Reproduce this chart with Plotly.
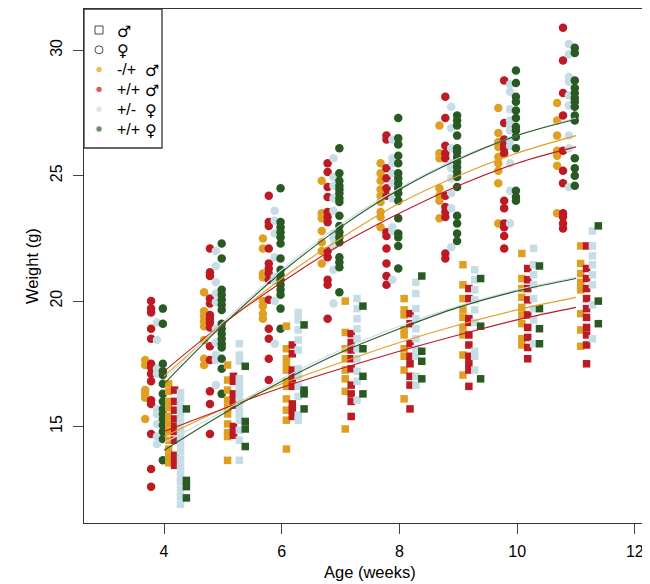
import plotly.graph_objects as go

# Ages (weeks) at which each group was weighed
ages = [4, 5, 6, 7, 8, 9, 10, 11]

# Body weights (g), one inner list per age
orange_circles = [
    [17.65, 17.45, 16.45, 16.3, 16.15, 15.3],
    [20.35, 19.6, 19.4, 19.2, 19.0, 18.45, 17.7, 17.45],
    [22.5, 22.1, 21.1, 20.95, 20.0, 19.8, 19.5, 19.3],
    [24.8, 23.5, 23.3, 22.8, 22.35, 22.0, 21.5],
    [25.5, 25.1, 24.8, 24.45, 24.2, 23.95, 23.55, 23.35, 22.95],
    [27.0, 25.9, 25.7, 24.5, 24.2, 24.0, 23.3],
    [27.7, 26.7, 26.35, 26.15, 25.75, 25.5, 25.2, 24.7, 23.1],
    [27.9, 27.2, 26.6, 26.0, 25.8, 25.4, 23.5],
]
red_circles = [
    [20.0, 19.7, 19.55, 18.9, 18.5, 17.5, 17.35, 17.1, 16.8, 16.05, 15.9, 14.7, 13.3, 12.6],
    [22.1, 21.15, 21.0, 20.1, 19.9, 19.45, 19.3, 19.15, 18.95, 18.2, 17.65, 16.4, 15.9, 14.7],
    [24.2, 23.15, 23.0, 22.1, 21.5, 21.3, 21.1, 20.85, 20.05, 18.9, 18.5, 17.7, 16.85],
    [25.5, 25.15, 24.55, 24.15, 23.55, 23.35, 23.15, 22.0, 21.75, 20.85, 20.65, 19.3],
    [26.6, 26.45, 25.3, 24.9, 24.5, 24.2, 22.75, 22.6, 22.1, 21.5, 21.0, 20.65],
    [28.15, 27.3, 26.2, 25.9, 25.7, 24.2, 23.75, 23.55, 23.35, 21.9, 21.7],
    [28.8, 27.1, 26.45, 26.25, 26.1, 25.9, 24.0, 23.7, 23.1, 22.95, 22.6, 22.1],
    [30.9, 29.6, 28.3, 27.4, 26.0, 25.2, 24.7, 23.5, 23.35, 23.1, 22.9],
]
blue_circles = [
    [19.15, 18.45, 17.3, 17.1, 15.7, 15.5, 15.1, 14.6, 14.3],
    [22.0, 21.4, 20.75, 20.3, 19.95, 18.9, 18.35, 17.85, 17.65, 16.65],
    [23.6, 23.2, 22.7, 21.75, 20.95, 20.8, 20.0, 18.3],
    [25.7, 24.95, 24.6, 24.1, 23.6, 22.7, 22.5, 22.2, 21.25, 19.9],
    [26.45, 25.7, 25.5, 25.1, 24.7, 24.1, 22.95, 22.8, 20.85],
    [27.75, 26.9, 26.1, 25.5, 25.3, 24.9, 24.3, 23.7, 22.15],
    [28.65, 28.35, 27.65, 27.2, 27.0, 26.8, 26.4, 26.2, 25.5, 24.4, 23.1],
    [30.25, 29.85, 28.95, 28.75, 28.2, 27.8, 26.6, 26.1, 24.55],
]
green_circles = [
    [19.7, 19.1, 17.5, 17.2, 17.05, 16.7, 16.3, 16.0, 15.7, 15.5, 15.3, 15.05, 14.8, 14.5, 13.65],
    [22.3, 21.7, 20.45, 20.25, 20.05, 19.85, 19.65, 19.1, 18.9, 18.7, 18.5, 18.3, 18.15, 17.7, 17.3, 16.3],
    [24.5, 23.15, 22.95, 22.75, 22.55, 22.3, 21.7, 21.25, 21.05, 20.85, 20.65, 20.45, 20.25, 19.7, 18.9],
    [26.1, 25.1, 24.8, 24.6, 24.45, 24.3, 24.1, 23.95, 23.4, 23.0, 22.75, 22.55, 22.35, 21.75, 21.55, 21.35, 20.35],
    [27.3, 26.5, 26.25, 25.8, 25.5, 25.1, 24.9, 24.7, 24.5, 24.3, 24.0, 23.3, 22.7, 22.55, 22.2, 21.3],
    [27.4, 27.2, 27.0, 26.6, 26.1, 25.95, 25.75, 25.55, 25.35, 25.15, 24.95, 24.55, 23.4, 23.1, 22.7, 22.4],
    [29.2, 28.7, 28.15, 27.95, 27.6, 27.3, 26.95, 26.8, 26.55, 26.1, 24.4, 24.15, 24.0],
    [30.1, 29.9, 28.8, 28.5, 28.3, 28.1, 27.95, 27.75, 27.4, 27.2, 25.7, 25.3, 25.0, 24.6],
]
orange_squares = [
    [16.7, 16.4, 16.0, 15.75, 15.4, 15.1, 14.8, 14.45, 14.1, 13.8, 13.55],
    [17.45, 16.85, 16.45, 16.05, 15.75, 15.5, 15.1, 14.75, 14.6, 13.65],
    [19.0, 18.1, 17.7, 17.45, 17.25, 16.8, 16.6, 16.1, 15.65, 15.25, 14.1],
    [20.0, 18.75, 18.1, 17.7, 17.25, 16.9, 16.4, 14.9],
    [20.1, 19.65, 19.45, 18.85, 18.65, 18.1, 17.8, 17.25, 16.1],
    [21.45, 20.65, 20.1, 19.65, 19.35, 18.95, 18.65, 17.85, 17.05],
    [21.9, 20.9, 20.5, 20.15, 19.75, 19.45, 19.1, 18.5, 18.25],
    [22.2, 21.5, 21.1, 20.75, 20.45, 19.5, 18.85, 18.2],
]
red_squares = [
    [16.45, 16.0, 15.65, 15.3, 15.0, 14.8, 14.45, 13.85, 13.6, 13.45],
    [17.0, 16.8, 16.3, 16.1, 15.85, 15.0, 14.8, 14.65],
    [18.25, 17.9, 17.25, 17.05, 16.9, 16.6, 15.9, 15.65, 15.4],
    [18.7, 18.35, 18.05, 17.7, 17.3, 16.65, 16.3, 16.0, 15.4],
    [19.5, 19.1, 18.3, 17.8, 17.5, 17.0, 16.65, 15.7],
    [20.5, 20.1, 19.3, 19.15, 18.65, 18.25, 17.8, 17.5, 17.25, 16.6],
    [21.3, 20.85, 20.5, 20.05, 19.45, 18.95, 18.55, 18.15, 17.7],
    [22.2, 21.3, 20.9, 20.5, 20.1, 19.7, 19.35, 18.95, 18.65, 18.25, 17.5],
]
blue_squares = [
    [16.35, 16.1, 15.8, 15.5, 15.2, 14.9, 14.6, 14.3, 14.0, 13.7, 13.4, 13.1, 12.8, 12.5, 12.2, 11.9],
    [18.3, 17.85, 17.6, 16.9, 16.65, 16.45, 16.2, 16.0, 15.75, 15.5, 15.25, 14.85, 14.45, 13.65],
    [19.55, 19.25, 18.85, 18.45, 18.05, 17.3, 17.0, 16.6, 16.2, 15.45, 15.25],
    [20.1, 19.7, 19.3, 18.9, 18.5, 18.1, 17.7, 17.2, 16.8, 16.05],
    [20.75, 20.3, 19.7, 19.3, 18.9, 18.5, 18.1, 17.8, 17.0, 16.65],
    [21.25, 20.85, 20.45, 20.05, 19.65, 19.15, 18.0, 17.8, 17.25],
    [22.1, 21.45, 21.05, 20.65, 20.1, 19.7, 19.25, 18.3],
    [22.8, 22.2, 21.8, 21.45, 21.05, 20.65, 19.85, 18.5],
]
green_squares = [
    [15.7, 12.85, 12.6, 12.15],
    [17.4, 15.2, 14.9, 14.2],
    [19.05, 16.45, 16.3, 15.7],
    [19.8, 18.1, 17.0, 16.3],
    [21.0, 18.0, 17.6, 16.9],
    [20.9, 19.0, 16.9],
    [21.4, 19.7, 18.9, 18.3],
    [23.0, 20.0, 19.1],
]

# Fitted growth curves at each age
orange_circle_fit = [17.0, 19.05, 20.9, 22.5, 23.9, 25.0, 25.9, 26.6]
red_circle_fit = [17.2, 19.1, 20.75, 22.25, 23.5, 24.6, 25.5, 26.15]
blue_circle_fit = [16.85, 19.15, 21.25, 23.05, 24.5, 25.7, 26.6, 27.3]
green_circle_fit = [16.7, 19.05, 21.15, 22.95, 24.45, 25.65, 26.6, 27.25]
orange_square_fit = [14.6, 15.7, 16.7, 17.55, 18.35, 19.05, 19.65, 20.15]
red_square_fit = [14.8, 15.7, 16.55, 17.3, 18.0, 18.65, 19.25, 19.75]
blue_square_fit = [14.35, 15.6, 16.9, 18.05, 19.0, 19.8, 20.45, 20.95]
green_square_fit = [14.05, 15.5, 16.8, 17.95, 18.9, 19.75, 20.4, 20.9]

legend_labels = ["", "", "-/+", "+/+", "+/-", "+/+"]
legend_sex = ["\u2642", "\u2640", "\u2642", "\u2642", "\u2640", "\u2640"]

ORANGE = "#E09F22"
RED = "#BD1A24"
BLUE = "#C6DDE5"
GREEN = "#2A5A24"
FONT = "Liberation Sans, Arial, sans-serif"
SYMFONT = "DejaVu Sans"

# (values, fit, marker symbol, colour, horizontal dodge in weeks)
groups = [
    (orange_circles, orange_circle_fit, "circle", ORANGE, -0.32),
    (red_circles, red_circle_fit, "circle", RED, -0.22),
    (blue_circles, blue_circle_fit, "circle", BLUE, -0.12),
    (green_circles, green_circle_fit, "circle", GREEN, -0.02),
    (orange_squares, orange_square_fit, "square", ORANGE, 0.08),
    (red_squares, red_square_fit, "square", RED, 0.18),
    (blue_squares, blue_square_fit, "square", BLUE, 0.28),
    (green_squares, green_square_fit, "square", GREEN, 0.38),
]

fig = go.Figure()

for values, fit, symbol, color, dodge in groups:
    xs, ys = [], []
    for age, weights in zip(ages, values):
        xs += [age + dodge] * len(weights)
        ys += weights
    fig.add_trace(go.Scatter(
        x=xs, y=ys, mode="markers", showlegend=False, hoverinfo="x+y",
        marker=dict(symbol=symbol, color=color, size=8.5 if symbol == "circle" else 7.5,
                    line=dict(width=0)),
    ))

# fitted curves drawn over the points
for values, fit, symbol, color, dodge in groups:
    fig.add_trace(go.Scatter(
        x=ages, y=fit, mode="lines", showlegend=False, hoverinfo="skip",
        line=dict(color=color, width=1.1, shape="spline"),
    ))

# hand-drawn legend box on a pixel-scaled overlay axis
PW, PH = 572, 514
row_y = [21 + 19.8 * i for i in range(6)]
fig.add_trace(go.Scatter(
    x=[15] * 6, y=row_y, mode="markers", showlegend=False, hoverinfo="skip",
    xaxis="x2", yaxis="y2",
    marker=dict(symbol=["square-open", "circle-open", "circle", "circle", "circle", "circle"],
                color=["black", "black", ORANGE, RED, BLUE, GREEN],
                size=[8, 8, 6.5, 6.5, 6.5, 6.5], line=dict(width=1)),
))
fig.add_shape(type="rect", xref="x2", yref="y2", x0=0, x1=78, y0=0, y1=139,
              line=dict(color="#333", width=1.3), fillcolor="white", layer="below")
for i, (lab, sex) in enumerate(zip(legend_labels, legend_sex)):
    if lab:
        fig.add_annotation(x=31, y=row_y[i], xref="x2", yref="y2", text=lab, showarrow=False,
                           xanchor="left", yanchor="middle", font=dict(size=16, color="black"))
        sex_x = 59
    else:
        sex_x = 31
    fig.add_annotation(x=sex_x, y=row_y[i] + 1, xref="x2", yref="y2", text=sex, showarrow=False,
                       xanchor="left", yanchor="middle",
                       font=dict(size=16, color="black", family=SYMFONT))

# axis titles
fig.add_annotation(text="Weight (g)", xref="paper", yref="paper", x=0, y=0.5,
                   xshift=-63, textangle=-90, showarrow=False, font=dict(size=16.5))
fig.add_annotation(text="Age (weeks)", xref="paper", yref="paper", x=0.5, y=0,
                   yshift=-60, showarrow=False, font=dict(size=16.5))

axis_common = dict(showline=True, mirror=True, linecolor="#333", linewidth=1.3,
                   showgrid=False, zeroline=False, ticks="outside", ticklen=10,
                   tickcolor="#444", tickwidth=1.3, tickfont=dict(size=16, color="black"))

fig.update_layout(
    width=650, height=584,
    margin=dict(l=76, r=2, t=1, b=69),
    plot_bgcolor="white", paper_bgcolor="white",
    font=dict(family=FONT, color="black"),
    xaxis=dict(range=[2.64, 12.36], tickvals=[4, 6, 8, 10, 12], ticklabelstandoff=4, **axis_common),
    yaxis=dict(range=[11.15, 31.65], tickvals=[15, 20, 25, 30], tickangle=-90,
               ticklabelstandoff=4, **axis_common),
    xaxis2=dict(overlaying="x", anchor="y2", range=[0, PW], visible=False, fixedrange=True),
    yaxis2=dict(overlaying="y", anchor="x2", range=[PH, 0], visible=False, fixedrange=True),
    showlegend=False,
)

fig.write_html("out.html")
